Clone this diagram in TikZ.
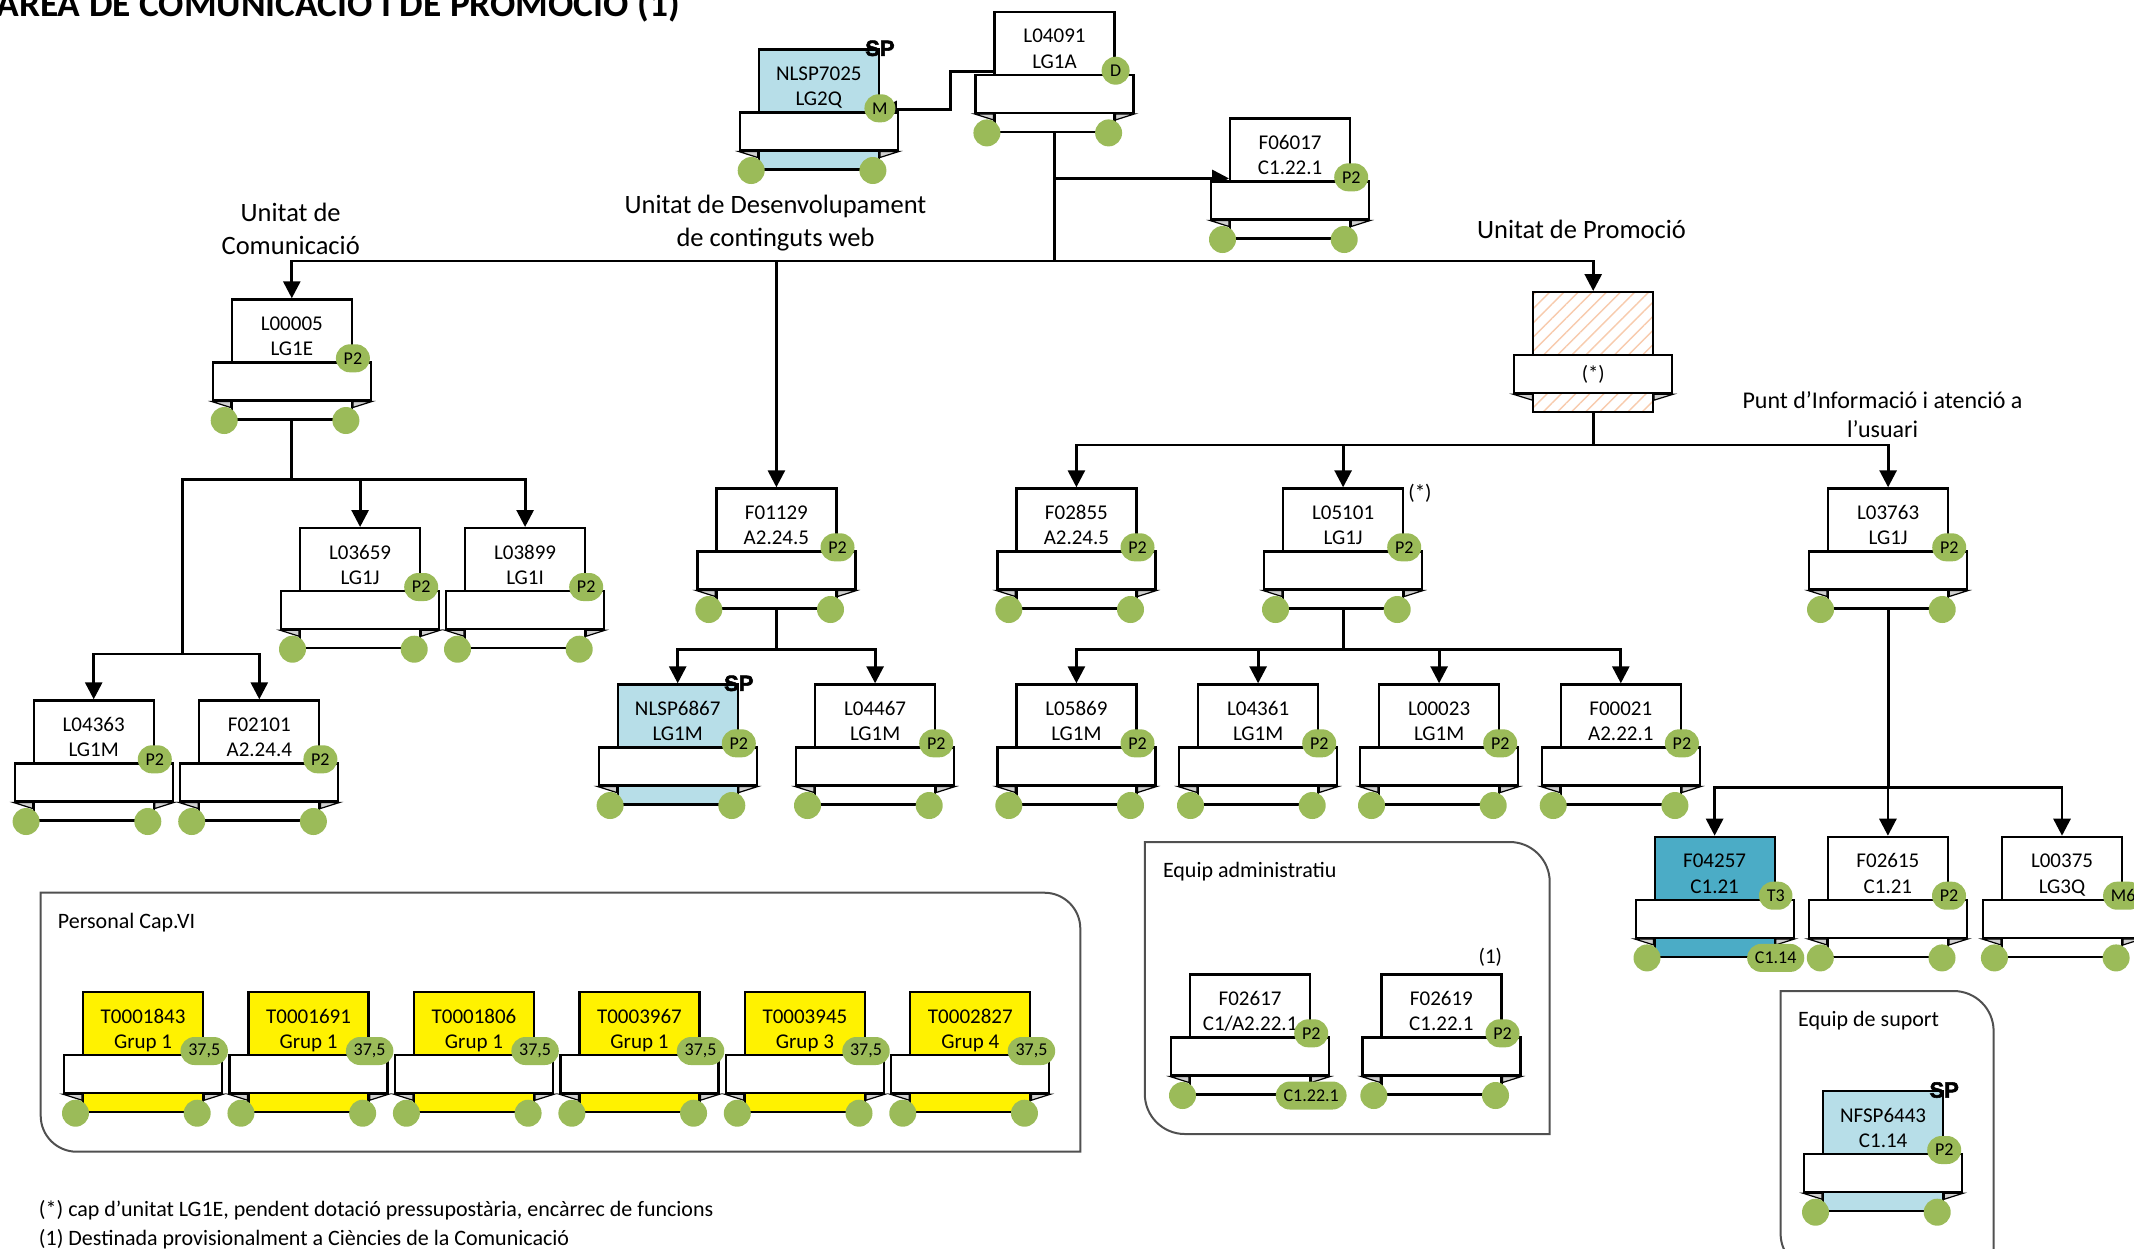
\documentclass[tikz,border=0pt]{standalone}
\usepackage{fontspec}
\setmainfont{Carlito}
\newfontfamily\spfont[BoldFeatures={FakeBold=2.5}]{Liberation Sans}
\usetikzlibrary{arrows.meta,calc,patterns.meta,backgrounds}
\definecolor{dotgreen}{HTML}{9BBB59}
\definecolor{ltblue}{HTML}{B7DEE8}
\definecolor{teal2}{HTML}{4BACC6}
\definecolor{foldgray}{HTML}{D0D0D0}
\definecolor{hatchc}{HTML}{F8CBAD}
\definecolor{framegray}{HTML}{505050}
\tikzset{
  boxst/.style={draw=black, line width=1.1pt, minimum width=60pt, minimum height=60pt, inner sep=0pt, anchor=north west},
  bandst/.style={draw=black, fill=white, line width=1.1pt, minimum width=79pt, minimum height=19pt, inner sep=0pt, anchor=north, font=\fontsize{10.35pt}{12.4pt}\selectfont},
  foldst/.style={draw=black, fill=foldgray, line width=0.6pt},
  dotst/.style={circle, fill=dotgreen, minimum size=13.5pt, inner sep=0pt},
  badgest/.style={fill=dotgreen, rounded corners=7pt, minimum height=14pt, minimum width=14pt, inner xsep=3.9pt, inner ysep=0pt, font=\fontsize{9pt}{10pt}\selectfont},
  txt/.style={anchor=base, inner sep=0pt, font=\fontsize{10.5pt}{12.6pt}\selectfont},
  splab/.style={inner sep=0pt, font=\spfont\bfseries\fontsize{11pt}{12pt}\selectfont},
  unitlab/.style={anchor=base, inner sep=0pt, font=\fontsize{13.25pt}{16pt}\selectfont},
  puntlab/.style={anchor=base, inner sep=0pt, font=\fontsize{12pt}{14pt}\selectfont},
  grplab/.style={anchor=base west, inner sep=0pt, font=\fontsize{11pt}{13pt}\selectfont},
  notelab/.style={anchor=base west, inner sep=0pt, font=\fontsize{11pt}{13pt}\selectfont},
  frame/.style={draw=framegray, line width=1pt},
  conn/.style={draw=black, line width=1.4pt},
  arr/.style={conn, -{Triangle[length=8.5pt,width=8.5pt]}}
}
\newcommand{\folds}[1]{%
  \draw[foldst] (#1-band.south west) -- (#1-band.south west -| #1.west) -- ($(#1-band.south west -| #1.west)+(0,6)$) -- cycle;
  \draw[foldst] (#1-band.south east) -- (#1-band.south east -| #1.east) -- ($(#1-band.south east -| #1.east)+(0,6)$) -- cycle;
}
\newcommand{\orgbox}[7]{%
  \node[boxst, fill=#6] (#1) at (#2,#3) {};
  \node[bandst] (#1-band) at ($(#1.north)+(0,63)$) {};
  \folds{#1}
  \node[txt] (#1-l1) at ($(#1.north)+(0,32)$) {#4};
  \node[txt] (#1-l2) at ($(#1.north)+(0,57.6)$) {#5};
  \node[dotst] (#1-d1) at ($(#1.south west)+(-6.5,0)$) {};
  \node[dotst] (#1-d2) at ($(#1.south east)+(-7,0)$) {};
  \node[badgest] (#1-b) at ($(#1.north east)+(0,60)$) {#7};
}
\begin{document}
\begin{tikzpicture}[x=0.5pt,y=-0.5pt]
\useasboundingbox (0,0) rectangle (2134,1248);
\clip (0,0) rectangle (2134,1248);

% containers
\draw[frame] (40.7,892.7) -- (1044.3,892.7) .. controls (1064.2,892.7) and (1080.3,908.8) .. (1080.3,928.7) -- (1080.3,1151.7) -- (76.7,1151.7) .. controls (56.8,1151.7) and (40.7,1135.6) .. (40.7,1115.7) -- cycle;
\draw[frame] (1144.8,842) -- (1509.7,842) .. controls (1531.8,842) and (1549.7,859.9) .. (1549.7,882) -- (1549.7,1134) -- (1184.8,1134) .. controls (1162.7,1134) and (1144.8,1116.1) .. (1144.8,1094) -- cycle;
\draw[frame] (1780.6,991) -- (1953.6,991) .. controls (1975.7,991) and (1993.6,1008.9) .. (1993.6,1031) -- (1993.6,1270) -- (1816.6,1270) .. controls (1796.7,1270) and (1780.6,1253.9) .. (1780.6,1234) -- cycle;
\node[grplab] (gPers) at (57.5,928.3) {Personal Cap.VI};
\node[grplab] (gAdm) at (1162.6,877.3) {Equip administratiu};
\node[grplab] (gSup) at (1797.7,1026.7) {Equip de suport};

% title and labels
\node[anchor=base west, inner sep=0pt, font=\bfseries\fontsize{18.7pt}{20pt}\selectfont] (title) at (-4,16) {ÀREA DE COMUNICACIÓ I DE PROMOCIÓ (1)};
\node[unitlab] (uc1) at (290.7,221.7) {Unitat de};
\node[unitlab] (uc2) at (290.7,254.5) {Comunicació};
\node[unitlab] (ud1) at (775.5,213.5) {Unitat de Desenvolupament};
\node[unitlab] (ud2) at (775.5,246.5) {de continguts web};
\node[unitlab] (up1) at (1581.5,238.5) {Unitat de Promoció};
\node[puntlab] (pi1) at (1882.5,408.5) {Punt d’Informació i atenció a};
\node[puntlab] (pi2) at (1882.5,437) {l’usuari};
\node[notelab] (n1) at (38.6,1216.7) {(*) cap d’unitat LG1E, pendent dotació pressupostària, encàrrec de funcions};
\node[notelab] (n2) at (38.6,1245) {(1) Destinada provisionalment a Ciències de la Comunicació};

% boxes
\orgbox{L04091}{993.4}{10.7}{L04091}{LG1A}{white}{D}
\orgbox{NLSP7025}{757.7}{48.3}{NLSP7025}{LG2Q}{ltblue}{M}
\node[splab] (NLSP7025-sp) at (NLSP7025.north east) {SP};
\orgbox{F06017}{1229}{117.3}{F06017}{C1.22.1}{white}{P2}
\orgbox{L00005}{230.7}{298.3}{L00005}{LG1E}{white}{P2}

\node[boxst, preaction={fill=white}, pattern={Lines[angle=45,distance=5pt,line width=0.7pt]}, pattern color=hatchc] (PROM) at (1532.5,291) {};
\node[bandst] (PROM-band) at ($(PROM.north)+(0,63)$) {(*)};
\folds{PROM}

\orgbox{F01129}{715.3}{487.3}{F01129}{A2.24.5}{white}{P2}
\orgbox{F02855}{1015.3}{487.3}{F02855}{A2.24.5}{white}{P2}
\orgbox{L05101}{1282}{487.3}{L05101}{LG1J}{white}{P2}
\node[txt] (ast) at (1420,499) {(*)};
\orgbox{L03763}{1827}{487.3}{L03763}{LG1J}{white}{P2}
\orgbox{L03659}{299}{527}{L03659}{LG1J}{white}{P2}
\orgbox{L03899}{464}{527}{L03899}{LG1I}{white}{P2}
\orgbox{L04363}{32.6}{699.3}{L04363}{LG1M}{white}{P2}
\orgbox{F02101}{198.2}{699.3}{F02101}{A2.24.4}{white}{P2}
\orgbox{NLSP6867}{616.6}{683.3}{NLSP6867}{LG1M}{ltblue}{P2}
\node[splab] (NLSP6867-sp) at (NLSP6867.north east) {SP};
\orgbox{L04467}{814}{683.3}{L04467}{LG1M}{white}{P2}
\orgbox{L05869}{1015.3}{683.3}{L05869}{LG1M}{white}{P2}
\orgbox{L04361}{1197}{683.3}{L04361}{LG1M}{white}{P2}
\orgbox{L00023}{1378}{683.3}{L00023}{LG1M}{white}{P2}
\orgbox{F00021}{1559.7}{683.3}{F00021}{A2.22.1}{white}{P2}
\orgbox{F04257}{1653.5}{835.7}{F04257}{C1.21}{teal2}{T3}
\node[badgest] (F04257-b2) at (F04257.south east) {C1.14};
\orgbox{F02615}{1826.8}{835.7}{F02615}{C1.21}{white}{P2}
\orgbox{L00375}{2000.9}{835.7}{L00375}{LG3Q}{white}{M6}
\orgbox{F02617}{1189}{973.3}{F02617}{C1/A2.22.1}{white}{P2}
\node[badgest] (F02617-b2) at (F02617.south east) {C1.22.1};
\orgbox{F02619}{1380.3}{973.3}{F02619}{C1.22.1}{white}{P2}
\node[txt] (one) at (1490.4,963.3) {(1)};
\orgbox{NFSP6443}{1822}{1090}{NFSP6443}{C1.14}{ltblue}{P2}
\node[splab] (NFSP6443-sp) at (NFSP6443.north east) {SP};

\foreach \i/\nm/\g in {0/T0001843/1,1/T0001691/1,2/T0001806/1,3/T0003967/1,4/T0003945/3,5/T0002827/4}{
  \orgbox{T\i}{82+165.45*\i}{991}{\nm}{Grup \g}{yellow}{37,5}
}

% connectors
\begin{pgfonlayer}{background}
\coordinate (bus1) at (0,261);
\coordinate (bus2) at (0,445);
\coordinate (bus3) at (0,479.3);
\coordinate (bus4) at (0,649.3);
\coordinate (bus5) at (0,787.3);
\coordinate (jogA) at (950.7,0);
\coordinate (jogL) at (182.3,654);
\draw[arr] (L04091.west) -- (L04091.west -| jogA) |- (NLSP7025.east);
\draw[conn] (L04091.south) -- (L04091.south |- bus1);
\draw[arr] (L04091.south |- F06017.west) -- (F06017.west);
\draw[arr] (L04091.south |- bus1) -| (L00005.north);
\draw[arr] (L04091.south |- bus1) -| (PROM.north);
\draw[arr] (F01129.north |- bus1) -- (F01129.north);
% promocio
\draw[conn] (PROM.south) -- (PROM.south |- bus2);
\draw[arr] (PROM.south |- bus2) -| (F02855.north);
\draw[arr] (PROM.south |- bus2) -| (L03763.north);
\draw[arr] (L05101.north |- bus2) -- (L05101.north);
% comunicacio
\draw[conn] (L00005.south) -- (L00005.south |- bus3);
\draw[arr] (L00005.south |- bus3) -| (L03899.north);
\draw[arr] (L03659.north |- bus3) -- (L03659.north);
\draw[conn] (L00005.south |- bus3) -| (jogL);
\draw[arr] (jogL) -| (L04363.north);
\draw[arr] (jogL) -| (F02101.north);
% web
\draw[conn] (F01129.south) -- (F01129.south |- bus4);
\draw[arr] (F01129.south |- bus4) -| (NLSP6867.north);
\draw[arr] (F01129.south |- bus4) -| (L04467.north);
% L05101
\draw[conn] (L05101.south) -- (L05101.south |- bus4);
\draw[arr] (L05101.south |- bus4) -| (L05869.north);
\draw[arr] (L05101.south |- bus4) -| (F00021.north);
\draw[arr] (L04361.north |- bus4) -- (L04361.north);
\draw[arr] (L00023.north |- bus4) -- (L00023.north);
% L03763
\draw[conn] (L03763.south) -- (L03763.south |- bus5);
\draw[arr] (L03763.south |- bus5) -| (F04257.north);
\draw[arr] (L03763.south |- bus5) -| (L00375.north);
\draw[arr] (F02615.north |- bus5) -- (F02615.north);
\end{pgfonlayer}
\end{tikzpicture}
\end{document}
